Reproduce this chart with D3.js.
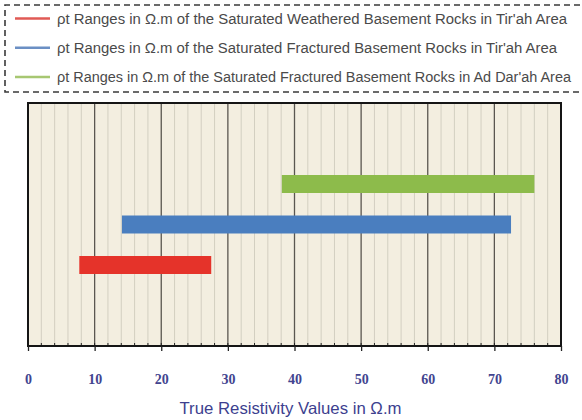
<!DOCTYPE html>
<html>
<head>
<meta charset="utf-8">
<script src="https://cdn.jsdelivr.net/npm/d3@7"></script>
<style>
  body { margin: 0; background: #fff; }
  svg { display: block; }
</style>
</head>
<body>
<div id="chart"></div>
<script>
// legend labels, one per range
const seriesNames = [
  "\u03c1t Ranges in \u03a9.m of the Saturated Weathered Basement Rocks in Tir'ah Area",
  "\u03c1t Ranges in \u03a9.m of the Saturated Fractured Basement Rocks in Tir'ah Area",
  "\u03c1t Ranges in \u03a9.m of the Saturated Fractured Basement Rocks in Ad Dar'ah Area"
];
const rangeLow = [7.7, 14.1, 38.1];
const rangeHigh = [27.5, 72.5, 76];
const rowLevel = [2, 3, 4];
const xTicks = [0, 10, 20, 30, 40, 50, 60, 70, 80];
const xMinor = d3.range(0, 81, 2);

const barColors = ["#e5332a", "#4a7ebf", "#8dbb4b"];
const legendColors = ["#e05a55", "#6b8fc4", "#a7c772"];

const width = 582, height = 420;
const margin = {top: 103, right: 21, bottom: 74, left: 28};
const innerW = width - margin.left - margin.right;
const innerH = height - margin.top - margin.bottom;

const svg = d3.select("#chart").append("svg")
  .attr("width", width)
  .attr("height", height);

// legend box, dashed, runs off the right edge
svg.append("path")
  .attr("d", "M600,5 H5 V92 H600")
  .attr("fill", "none")
  .attr("stroke", "#3a3a3a")
  .attr("stroke-width", 1.6)
  .attr("stroke-dasharray", "6,4");

const legend = svg.append("g").attr("class", "legend");
const lg = legend.selectAll("g").data(seriesNames).enter().append("g")
  .attr("transform", (d, i) => "translate(0," + (18.5 + i * 29.3) + ")");
lg.append("line")
  .attr("x1", 15).attr("x2", 50)
  .attr("stroke", (d, i) => legendColors[i])
  .attr("stroke-width", 2.5);
lg.append("text")
  .attr("x", 57).attr("dy", "0.36em")
  .attr("font-family", "Liberation Sans, Arial, sans-serif")
  .attr("font-size", 14)
  .attr("fill", "#4a4a4a")
  .attr("textLength", (d, i) => [510, 500, 514][i])
  .attr("lengthAdjust", "spacingAndGlyphs")
  .text(d => d);

const g = svg.append("g")
  .attr("transform", "translate(" + margin.left + "," + margin.top + ")");

const x = d3.scaleLinear().domain([0, 80]).range([0, innerW]);
const y = d3.scaleLinear().domain([0, 6]).range([innerH, 0]);

g.append("rect")
  .attr("width", innerW).attr("height", innerH)
  .attr("fill", "#f3eee0");

// minor grid
g.append("g").selectAll("line")
  .data(xMinor.filter(v => v % 10 !== 0)).enter().append("line")
  .attr("x1", d => x(d)).attr("x2", d => x(d))
  .attr("y1", 0).attr("y2", innerH)
  .attr("stroke", "#d3cfc1").attr("stroke-width", 1);

// major grid
g.append("g").selectAll("line")
  .data(xTicks.slice(1, -1)).enter().append("line")
  .attr("x1", d => x(d)).attr("x2", d => x(d))
  .attr("y1", 0).attr("y2", innerH)
  .attr("stroke", "#5a5650").attr("stroke-width", 1.3);

// bars
const barH = 18;
g.append("g").selectAll("rect")
  .data(rowLevel).enter().append("rect")
  .attr("x", (d, i) => x(rangeLow[i]))
  .attr("width", (d, i) => x(rangeHigh[i]) - x(rangeLow[i]))
  .attr("y", d => y(d) - barH / 2)
  .attr("height", barH)
  .attr("fill", (d, i) => barColors[i]);

// minor ticks on bottom edge
g.append("g").selectAll("line")
  .data(xMinor).enter().append("line")
  .attr("x1", d => x(d)).attr("x2", d => x(d))
  .attr("y1", innerH - 3).attr("y2", innerH)
  .attr("stroke", "#222").attr("stroke-width", 1);

// frame
g.append("rect")
  .attr("width", innerW).attr("height", innerH)
  .attr("fill", "none")
  .attr("stroke", "#151515").attr("stroke-width", 2);

const xAxis = g.append("g")
  .attr("transform", "translate(0," + innerH + ")")
  .call(d3.axisBottom(x).tickValues(xTicks).tickSize(5).tickPadding(23));
xAxis.select(".domain").remove();
xAxis.selectAll(".tick line").attr("stroke", "#222").attr("stroke-width", 1.3);
xAxis.selectAll(".tick text")
  .attr("font-family", "Liberation Serif, Times New Roman, serif")
  .attr("font-size", 14)
  .attr("font-weight", "bold")
  .attr("fill", "#42448f");

svg.append("text")
  .attr("x", margin.left + innerW / 2 - 4)
  .attr("y", 414)
  .attr("text-anchor", "middle")
  .attr("font-family", "Liberation Sans, Arial, sans-serif")
  .attr("font-size", 16.5)
  .attr("fill", "#3d3f8f")
  .attr("textLength", 222)
  .attr("lengthAdjust", "spacingAndGlyphs")
  .text("True Resistivity Values in \u03a9.m");
</script>
</body>
</html>
